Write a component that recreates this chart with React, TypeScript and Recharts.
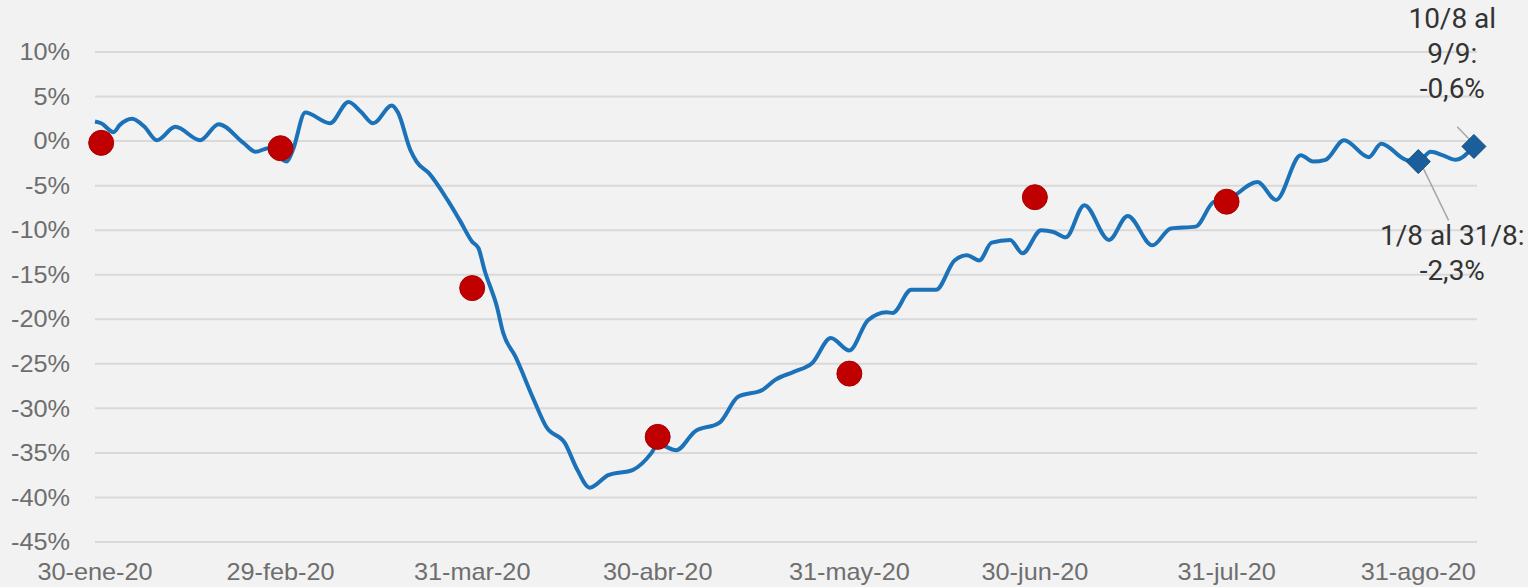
import {
  ComposedChart,
  Line,
  Scatter,
  XAxis,
  YAxis,
  CartesianGrid,
  ReferenceLine,
  ReferenceDot,
} from "recharts";

// days counted from 30-ene-20
const lineDays = [
  0, 1, 3, 4, 6, 8, 10, 13, 17, 20, 24, 26, 28, 31, 32, 34, 38, 41, 43, 45, 48,
  49, 51, 52, 54, 57, 59, 61, 62, 63, 65, 66, 68, 71, 73, 76, 78, 80, 83, 87,
  90, 91, 94, 97, 101, 104, 108, 110, 113, 116, 119, 122, 125, 128, 129, 132,
  136, 139, 141, 143, 145, 148, 150, 153, 155, 157, 160, 164, 167, 171, 174,
  178, 181, 183, 188, 191, 195, 197, 199, 202, 206, 208, 212, 214, 216, 218,
  220, 223,
];
const lineValues = [
  2.2, 2.0, 1.0, 1.8, 2.5, 1.6, 0.1, 1.6, 0.1, 1.9, -0.2, -1.2, -0.8, -2.3,
  -1.0, 3.2, 2.0, 4.4, 3.3, 2.0, 4.0, 3.2, -1.0, -2.3, -3.6, -6.6, -8.9, -11.3,
  -12.0, -14.5, -18.6, -21.5, -24.2, -29.1, -32.1, -33.9, -36.9, -38.9, -37.5,
  -36.9, -35.0, -34.0, -34.7, -32.6, -31.6, -28.7, -27.9, -26.8, -25.9, -24.9,
  -22.1, -23.5, -20.1, -19.2, -19.3, -16.7, -16.7, -13.4, -12.8, -13.4, -11.4,
  -11.1, -12.6, -10.0, -10.2, -10.8, -7.2, -11.1, -8.4, -11.7, -9.8, -9.6,
  -6.8, -6.6, -4.6, -6.6, -1.6, -2.3, -2.1, 0.1, -1.8, -0.3, -2.1, -2.3, -1.2,
  -1.6, -2.1, -0.6,
];

const dotDays = [1, 30, 61, 91, 122, 152, 183];
const dotValues = [-0.2, -0.8, -16.5, -33.2, -26.1, -6.3, -6.8];

const diamondDays = [214, 223];
const diamondValues = [-2.3, -0.6];

const tickDays = [0, 30, 61, 91, 122, 152, 183, 214];
const tickLabels = [
  "30-ene-20",
  "29-feb-20",
  "31-mar-20",
  "30-abr-20",
  "31-may-20",
  "30-jun-20",
  "31-jul-20",
  "31-ago-20",
];
const yTicks = [-45, -40, -35, -30, -25, -20, -15, -10, -5, 0, 5, 10];

const lineData = lineDays.map((d, i) => ({ day: d, value: lineValues[i] }));
const dotData = dotDays.map((d, i) => ({ day: d, value: dotValues[i] }));
const diamondData = diamondDays.map((d, i) => ({
  day: d,
  value: diamondValues[i],
}));

// the source text is a bit stretched sideways
const StretchTick = (props: any) => {
  const { x, y, payload, textAnchor, formatter, dy } = props;
  return (
    <g transform={`translate(${x},${y}) scale(1.1,1)`}>
      <text
        x={0}
        y={0}
        dy={dy}
        textAnchor={textAnchor}
        fontFamily="'Liberation Sans', Arial, sans-serif"
        fontSize={23}
        fill="#6e6e6e"
      >
        {formatter(payload.value)}
      </text>
    </g>
  );
};

const xLabel = (v: number) => tickLabels[tickDays.indexOf(v)] ?? "";
const yLabel = (v: number) => `${v}%`;

const Diamond = (props: any) => {
  const { cx, cy } = props;
  const s = 12;
  return (
    <polygon
      points={`${cx},${cy - s} ${cx + s},${cy} ${cx},${cy + s} ${cx - s},${cy}`}
      fill="#1a5f9c"
      stroke="#124a7a"
      strokeWidth={1}
    />
  );
};

const RedDot = (props: any) => (
  <circle cx={props.cx} cy={props.cy} r={12.5} fill="#c00000" stroke="#a80000" strokeWidth={1} />
);

const noteText = (lines: string[]) => (props: any) => (
  <text
    x={props.cx}
    y={props.cy}
    textAnchor="middle"
    fontFamily="Roboto, sans-serif"
    fontSize={28}
    fill="#333333"
  >
    {lines.map((l, i) => (
      <tspan key={i} x={props.cx} dy={i === 0 ? 0 : 35}>
        {l}
      </tspan>
    ))}
  </text>
);

export default function App() {
  return (
    <div
      style={{
        position: "absolute",
        left: 0,
        top: 0,
        width: 1528,
        height: 587,
        background: "#f2f2f2",
      }}
    >
      <ComposedChart
        width={1528}
        height={587}
        margin={{ top: 52, right: 51, bottom: 0, left: 0 }}
      >
        <CartesianGrid vertical={false} stroke="#d9d9d9" strokeWidth={2} />
        <XAxis
          type="number"
          dataKey="day"
          domain={[0, 223.5]}
          ticks={tickDays}
          axisLine={false}
          tickLine={false}
          tickSize={0}
          tickMargin={22}
          height={45}
          tick={(p: any) => <StretchTick {...p} dy="0.71em" formatter={xLabel} />}
          interval={0}
        />
        <YAxis
          type="number"
          dataKey="value"
          domain={[-45, 10]}
          ticks={yTicks}
          axisLine={false}
          tickLine={false}
          tickSize={0}
          tickMargin={25}
          width={95}
          tick={(p: any) => <StretchTick {...p} dy="0.355em" formatter={yLabel} />}
          interval={0}
        />
        <Line
          data={lineData}
          dataKey="value"
          type="monotone"
          stroke="#1b72b8"
          strokeWidth={4}
          strokeLinejoin="round"
          dot={false}
          activeDot={false}
          isAnimationActive={false}
        />
        <Scatter
          data={dotData}
          dataKey="value"
          shape={RedDot}
          isAnimationActive={false}
        />
        <Scatter
          data={diamondData}
          dataKey="value"
          shape={Diamond}
          isAnimationActive={false}
        />
        <ReferenceLine
          segment={[
            { x: 220.3, y: 1.6 },
            { x: 222.4, y: 0.1 },
          ]}
          stroke="#a6a6a6"
          strokeWidth={1.5}
          ifOverflow="visible"
        />
        <ReferenceLine
          segment={[
            { x: 214.7, y: -2.9 },
            { x: 218.9, y: -8.9 },
          ]}
          stroke="#a6a6a6"
          strokeWidth={1.5}
          ifOverflow="visible"
        />
        <ReferenceDot
          x={219.5}
          y={12.7}
          r={0}
          ifOverflow="visible"
          shape={noteText(["10/8 al", "9/9:", "-0,6%"])}
        />
        <ReferenceDot
          x={219.5}
          y={-11.7}
          r={0}
          ifOverflow="visible"
          shape={noteText(["1/8 al 31/8:", "-2,3%"])}
        />
      </ComposedChart>
    </div>
  );
}
